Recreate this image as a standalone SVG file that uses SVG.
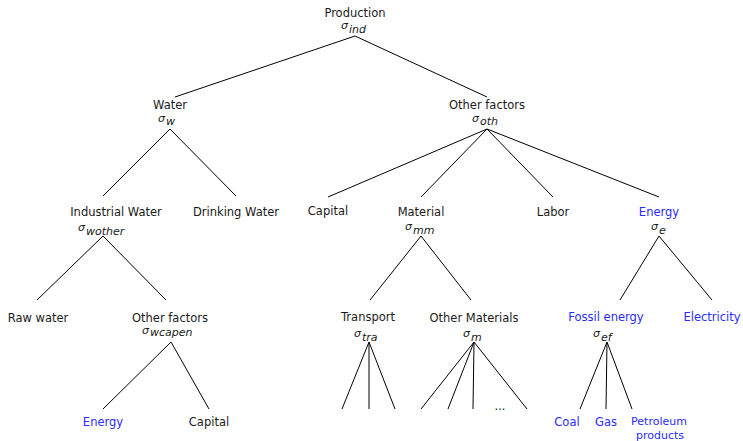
<svg xmlns="http://www.w3.org/2000/svg" width="743" height="441" viewBox="0 0 743 441">
<style>
text{font-family:"DejaVu Sans","Liberation Sans",sans-serif;font-size:11.5px;fill:#1a1a1a;text-anchor:middle}
.b{fill:#2b2bff}
.s{font-style:italic;text-anchor:start}
.sg{font-size:11px}
.sub{font-size:11px}
.p{font-size:11px}
.e path{stroke:#000;stroke-width:1;fill:none}
</style>
<rect width="743" height="441" fill="#fff"/>
<g class="e" id="connectors">
<path d="M355 36L175 97M355 36L487 97"/>
<path d="M170 129L103 196M170 129L236 196"/>
<path d="M487 129L328 197M487 129L421 197M487 129L553 197M487 129L659 197"/>
<path d="M103 236L37 300M103 236L166 300"/>
<path d="M421 236L370 300M421 236L471 300"/>
<path d="M659 236L620 300M659 236L712 300"/>
<path d="M171 342L103 409M171 342L209 409"/>
<path d="M369 342L342 409M369 342L369 409M369 342L395 409"/>
<path d="M474 342L421 409M474 342L448 409M474 342L473 409M474 342L527 409"/>
<path d="M607 342L580 409M607 342L606 409M607 342L632 409"/>
</g>
<g id="production"><text x="355" y="17">Production</text><text class="s" x="341" y="29"><tspan class="sg">σ</tspan><tspan class="sub" dx="1" dy="4">ind</tspan></text></g>
<g id="water"><text x="170" y="109">Water</text><text class="s" x="158" y="122"><tspan class="sg">σ</tspan><tspan class="sub" dx="1" dy="3">w</tspan></text></g>
<g id="otherfactors"><text x="487" y="109">Other factors</text><text class="s" x="472" y="122"><tspan class="sg">σ</tspan><tspan class="sub" dx="1" dy="3">oth</tspan></text></g>
<g id="industrialwater"><text x="116" y="216">Industrial Water</text><text class="s" x="78" y="231"><tspan class="sg">σ</tspan><tspan class="sub" dx="1" dy="4">wother</tspan></text></g>
<g id="drinkingwater"><text x="236" y="216">Drinking Water</text></g>
<g id="capital1"><text x="328" y="215">Capital</text></g>
<g id="material"><text x="421" y="216">Material</text><text class="s" x="405" y="230"><tspan class="sg">σ</tspan><tspan class="sub" dx="1" dy="4">mm</tspan></text></g>
<g id="labor"><text x="553" y="216">Labor</text></g>
<g id="energy1"><text class="b" x="659" y="216">Energy</text><text class="s" x="651" y="230"><tspan class="sg">σ</tspan><tspan class="sub" dx="1" dy="4">e</tspan></text></g>
<g id="rawwater"><text x="38" y="322">Raw water</text></g>
<g id="otherfactors2"><text x="170" y="322">Other factors</text><text class="s" x="142" y="334"><tspan class="sg">σ</tspan><tspan class="sub" dx="1" dy="2">wcapen</tspan></text></g>
<g id="transport"><text x="368" y="321">Transport</text><text class="s" x="354" y="337"><tspan class="sg">σ</tspan><tspan class="sub" dx="1" dy="4">tra</tspan></text></g>
<g id="othermaterials"><text x="474" y="322">Other Materials</text><text class="s" x="463" y="337"><tspan class="sg">σ</tspan><tspan class="sub" dx="1" dy="4">m</tspan></text></g>
<g id="fossil"><text class="b" x="606" y="321">Fossil energy</text><text class="s" x="593" y="337"><tspan class="sg">σ</tspan><tspan class="sub" dx="1" dy="4">ef</tspan></text></g>
<g id="electricity"><text class="b" x="712" y="321">Electricity</text></g>
<g id="dots"><text x="500" y="410">...</text></g>
<g id="energy2"><text class="b" x="103" y="426">Energy</text></g>
<g id="capital2"><text x="209" y="426">Capital</text></g>
<g id="coal"><text class="b" x="567" y="426">Coal</text></g>
<g id="gas"><text class="b" x="606" y="426">Gas</text></g>
<g id="petroleum"><text class="b p" x="659" y="425">Petroleum</text><text class="b p" x="660" y="438.5">products</text></g>
</svg>
